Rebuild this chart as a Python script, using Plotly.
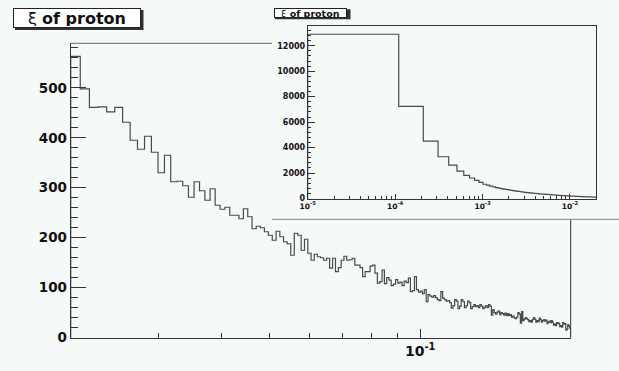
import numpy as np
import plotly.graph_objects as go

# ---------------- data ----------------
TITLE = "ξ of proton"

# main histogram: 200 bins from 0.02 to 0.2
MAIN_NBINS = 200
MAIN_XMIN = 0.02
MAIN_XMAX = 0.2
main_counts = [
    563, 498, 461, 462, 452, 461, 431, 395, 377, 403,
    371, 330, 365, 312, 313, 304, 281, 312, 294, 275,
    298, 265, 257, 261, 245, 245, 238, 258, 242, 218,
    223, 220, 212, 205, 195, 213, 202, 192, 188, 165,
    209, 205, 175, 197, 169, 155, 167, 162, 160, 155,
    159, 139, 159, 132, 140, 155, 163, 155, 156, 159,
    145, 145, 140, 122, 132, 132, 143, 145, 129, 109,
    112, 135, 108, 120, 115, 104, 107, 116, 109, 111,
    104, 113, 110, 119, 92, 94, 122, 96, 91, 93,
    88, 96, 72, 86, 83, 81, 84, 80, 76, 74,
    92, 79, 76, 73, 74, 70, 59, 64, 76, 73,
    58, 63, 76, 72, 60, 64, 73, 70, 58, 62,
    66, 62, 64, 60, 66, 63, 58, 61, 64, 60,
    66, 63, 45, 56, 50, 47, 51, 53, 46, 50,
    48, 45, 49, 44, 48, 44, 46, 41, 43, 39,
    38, 41, 50, 47, 29, 52, 34, 37, 40, 38,
    36, 32, 34, 31, 36, 40, 37, 31, 34, 32,
    39, 36, 31, 34, 36, 33, 35, 28, 31, 33,
    30, 34, 31, 25, 27, 24, 30, 28, 29, 22,
    24, 21, 30, 27, 28, 15, 17, 26, 23, 19,
]

# inset histogram: 200 bins from 1e-5 to 0.02
INSET_NBINS = 200
INSET_XMIN = 1e-5
INSET_XMAX = 0.02
inset_counts = [
    12900, 7230, 4500, 3280, 2625, 2155, 1820, 1610, 1430, 1270,
    1120, 1045, 968, 912, 858, 818, 782, 744, 716, 690,
    668, 646, 622, 604, 586, 566, 548, 532, 514, 496,
    486, 474, 466, 454, 446, 436, 427, 421, 411, 404,
    398, 391, 382, 377, 367, 361, 355, 352, 347, 345,
    339, 336, 331, 328, 323, 321, 315, 313, 307, 305,
    300, 297, 291, 289, 285, 282, 277, 275, 270, 266,
    259, 257, 253, 252, 248, 247, 243, 242, 239, 237,
    235, 234, 231, 229, 228, 225, 224, 221, 220, 217,
    216, 213, 212, 210, 209, 206, 205, 203, 201, 199,
    197, 196, 194, 193, 191, 189, 188, 186, 183, 182,
    180, 179, 178, 176, 175, 174, 172, 171, 170, 168,
    167, 166, 165, 163, 163, 161, 160, 159, 158, 156,
    156, 155, 153, 153, 151, 150, 150, 148, 147, 147,
    145, 144, 144, 142, 142, 141, 140, 139, 139, 137,
    137, 136, 135, 134, 134, 133, 132, 132, 130, 130,
    129, 128, 128, 127, 126, 126, 125, 124, 124, 123,
    122, 122, 121, 120, 120, 119, 119, 118, 117, 117,
    116, 116, 115, 114, 114, 113, 113, 112, 112, 111,
    111, 110, 109, 109, 108, 108, 107, 107, 106, 106,
]

main_major_ticks = [0.1]
main_major_text = ["10<sup>-1</sup>"]
main_minor_ticks = [0.03, 0.04, 0.05, 0.06, 0.07, 0.08, 0.09]
inset_major_ticks = [1e-5, 1e-4, 1e-3, 1e-2]
inset_major_text = ["10<sup>-5</sup>", "10<sup>-4</sup>", "10<sup>-3</sup>", "10<sup>-2</sup>"]
inset_minor_ticks = [m * d for d in (1e-5, 1e-4, 1e-3) for m in range(2, 10)]

# ---------------- styling ----------------
W, H = 619, 371
BG = "#f5f9f8"
LINE = "#4a4a4a"
AX = "#333333"
FONT = "DejaVu Sans"


def px(x):
    return x / W


def py(y):
    return 1 - y / H


def step(edges, counts):
    xs = [edges[0]] + list(edges)
    ys = [0] + list(counts) + [0]
    return xs, ys


main_edges = np.linspace(MAIN_XMIN, MAIN_XMAX, MAIN_NBINS + 1)
inset_edges = np.linspace(INSET_XMIN, INSET_XMAX, INSET_NBINS + 1)

mx, my = step(main_edges, main_counts)
ix, iy = step(inset_edges, inset_counts)

fig = go.Figure()
fig.add_trace(go.Scatter(x=mx, y=my, mode="lines", line=dict(shape="hv", color=LINE, width=1.2),
                         xaxis="x", yaxis="y", showlegend=False, hoverinfo="skip"))
fig.add_trace(go.Scatter(x=ix, y=iy, mode="lines", line=dict(shape="hv", color=LINE, width=1.2),
                         xaxis="x2", yaxis="y2", showlegend=False, hoverinfo="skip"))

main_font = dict(family=FONT, size=13.5, color="#111", weight="bold")
inset_font = dict(family=FONT, size=8, color="#111", weight="bold")

fig.update_layout(
    width=W, height=H,
    margin=dict(l=0, r=0, t=0, b=0, autoexpand=False),
    paper_bgcolor=BG, plot_bgcolor=BG,
    showlegend=False,
    xaxis=dict(
        type="log", range=[np.log10(MAIN_XMIN), np.log10(MAIN_XMAX)],
        domain=[px(70.7), px(570.7)], anchor="y", automargin=False,
        showline=True, linecolor=AX, linewidth=1, showgrid=False, zeroline=False,
        ticks="inside", tickcolor=AX, ticklen=9, tickwidth=1,
        tickmode="array", tickvals=main_major_ticks, ticktext=main_major_text,
        tickfont=dict(family=FONT, size=14, color="#111", weight="bold"),
        minor=dict(tickmode="array", tickvals=main_minor_ticks, ticks="inside",
                   ticklen=4.5, tickcolor=AX, showgrid=False),
    ),
    yaxis=dict(
        range=[0, 589], domain=[py(337.7), py(43.3)], anchor="x", automargin=False,
        showline=True, linecolor=AX, linewidth=1, showgrid=False, zeroline=False,
        ticks="inside", tickcolor=AX, ticklen=15, tickwidth=1,
        tickmode="linear", tick0=0, dtick=100,
        tickfont=main_font,
        minor=dict(tickmode="linear", tick0=0, dtick=20, ticks="inside",
                   ticklen=7.5, tickcolor=AX, showgrid=False),
    ),
    xaxis2=dict(
        type="log", range=[np.log10(INSET_XMIN), np.log10(INSET_XMAX)],
        domain=[px(307.7), px(596.3)], anchor="y2", automargin=False,
        showline=True, mirror=True, linecolor=AX, linewidth=1, showgrid=False, zeroline=False,
        ticks="inside", tickcolor=AX, ticklen=5, tickwidth=1,
        tickmode="array", tickvals=inset_major_ticks, ticktext=inset_major_text,
        tickfont=dict(family=FONT, size=7.5, color="#111", weight="bold"),
        ticklabelstandoff=0,
        minor=dict(tickmode="array", tickvals=inset_minor_ticks, ticks="inside",
                   ticklen=2.5, tickcolor=AX, showgrid=False),
    ),
    yaxis2=dict(
        range=[0, 13550], domain=[py(198.5), py(26)], anchor="x2", automargin=False,
        showline=True, mirror=True, linecolor=AX, linewidth=1, showgrid=False, zeroline=False,
        ticks="inside", tickcolor=AX, ticklen=7, tickwidth=1,
        tickmode="linear", tick0=0, dtick=2000, tickformat="d",
        tickfont=inset_font,
        minor=dict(tickmode="linear", tick0=0, dtick=400, ticks="inside",
                   ticklen=3.5, tickcolor=AX, showgrid=False),
    ),
)

shapes = [
    # partial main frame (top & right), hidden behind the inset pad
    dict(type="line", xref="paper", yref="paper", x0=px(70.7), x1=px(272), y0=py(43.3), y1=py(43.3),
         line=dict(color="#666", width=1)),
    dict(type="line", xref="paper", yref="paper", x0=px(570.7), x1=px(570.7), y0=py(337.7), y1=py(219.3),
         line=dict(color=AX, width=1)),
    # inset pad bottom edge
    dict(type="line", xref="paper", yref="paper", x0=px(272), x1=1, y0=py(219.3), y1=py(219.3),
         line=dict(color="#888", width=1)),
    # title box shadows
    dict(type="rect", xref="paper", yref="paper", x0=px(15), x1=px(143.5), y0=py(30), y1=py(10),
         fillcolor="#333", line=dict(width=0), layer="below"),
    dict(type="rect", xref="paper", yref="paper", x0=px(275), x1=px(350.5), y0=py(19.3), y1=py(9.3),
         fillcolor="#333", line=dict(width=0), layer="below"),
]
fig.update_layout(shapes=shapes)

t = TITLE.split(" ", 1)
title_text = f"{t[0]} <b>{t[1]}</b>"
fig.add_annotation(xref="paper", yref="paper", x=px(13.3), y=py(8.3), xanchor="left", yanchor="top",
                   text=title_text, showarrow=False, width=124, height=16, align="center",
                   bgcolor="white", bordercolor="#222", borderwidth=1, borderpad=1,
                   font=dict(family=FONT, size=16, color="#111"))
fig.add_annotation(xref="paper", yref="paper", x=px(274), y=py(8.3), xanchor="left", yanchor="top",
                   text=title_text, showarrow=False, width=71, height=8, align="center",
                   bgcolor="white", bordercolor="#222", borderwidth=1, borderpad=0,
                   font=dict(family=FONT, size=9.5, color="#111"))

fig.write_html("out.html")
